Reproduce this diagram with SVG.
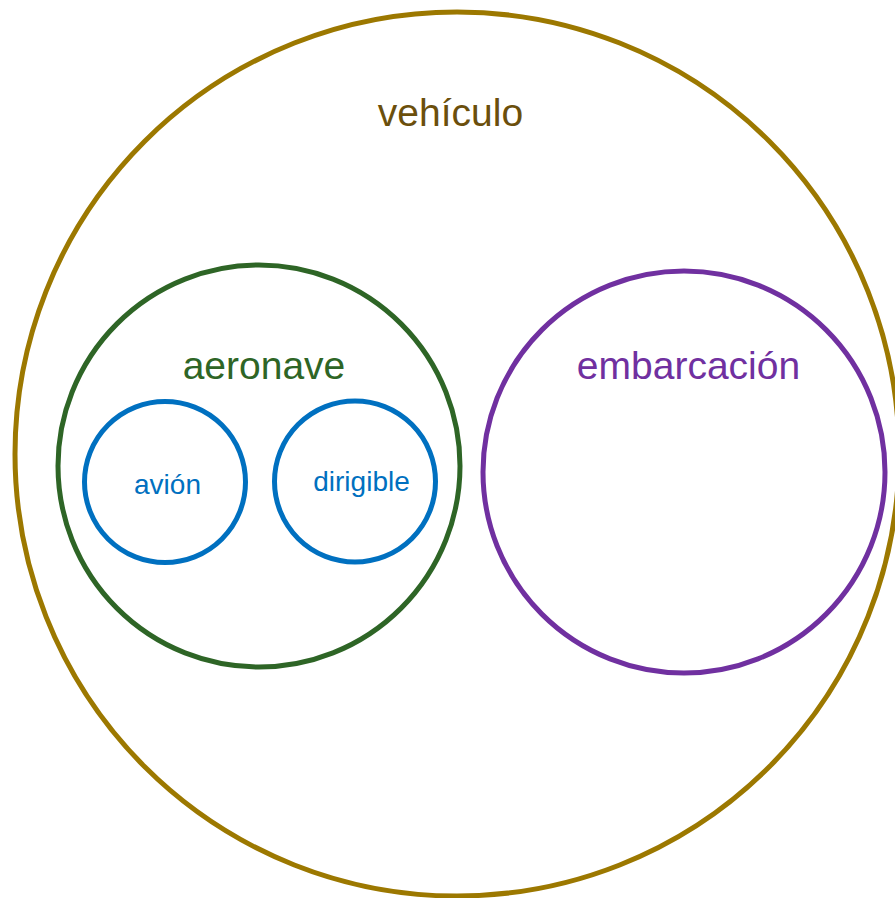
<svg xmlns="http://www.w3.org/2000/svg" width="895" height="898" viewBox="0 0 895 898">
<style>
.c{fill:none;stroke-width:5}
text{font-family:"Liberation Sans",Arial,sans-serif;text-anchor:middle}
.big{font-size:39px}
.small{font-size:28px;fill:#0070c0}
</style>
<rect width="895" height="898" fill="#ffffff"/>
<g id="vehiculo">
<circle class="c" cx="457" cy="454" r="442" stroke="#9c7800"/>
<text class="big" x="450.5" y="126" fill="#6b4f0c">vehículo</text>
</g>
<g id="aeronave">
<circle class="c" cx="259" cy="466" r="201" stroke="#2e6526"/>
<text class="big" x="264" y="379" fill="#2e6526">aeronave</text>
</g>
<g id="embarcacion">
<circle class="c" cx="684" cy="472" r="201" stroke="#7030a0"/>
<text class="big" x="688.5" y="379" fill="#7030a0">embarcación</text>
</g>
<g id="avion">
<circle class="c" cx="165" cy="482" r="80.5" stroke="#0070c0"/>
<text class="small" x="167.5" y="494">avión</text>
</g>
<g id="dirigible">
<circle class="c" cx="355" cy="481.5" r="80.5" stroke="#0070c0"/>
<text class="small" x="361.5" y="491">dirigible</text>
</g>
<g id="connectors"></g>
</svg>
